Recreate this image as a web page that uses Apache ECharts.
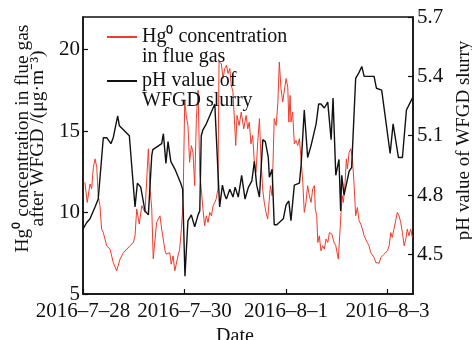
<!DOCTYPE html>
<html>
<head>
<meta charset="utf-8">
<script src="https://cdn.jsdelivr.net/npm/echarts@6/dist/echarts.min.js"></script>
<style>
  html, body { margin: 0; padding: 0; background: #fff; }
  #chart { width: 472px; height: 340px; }
</style>
</head>
<body>
<div id="chart"></div>
<script>
// hours since 2016-7-28 00:00
var hgHours = [0.9,2.0,3.3,4.1,4.9,5.7,6.5,7.2,8.0,8.8,9.6,11.2,12.8,14.3,15.9,17.5,19.1,20.7,22.2,23.8,
  24.6,25.4,26.6,27.8,29.3,30.9,31.7,32.5,33.2,34.8,36.4,37.2,38.8,39.4,41.0,41.7,42.6,43.4,44.9,45.7,
  46.5,47.3,48.1,48.8,49.6,50.4,51.2,52.0,52.8,53.6,54.4,55.2,55.9,56.7,57.5,58.3,59.1,59.9,60.7,61.5,
  62.3,63.0,63.8,64.3,65.4,66.2,67.0,67.8,68.6,69.4,70.1,70.9,72.2,72.8,73.8,74.8,76.0,77.1,77.9,78.6,
  79.4,80.2,81.0,81.8,82.6,83.4,84.2,85.0,85.7,86.5,87.3,87.9,88.6,89.4,90.4,91.3,92.1,92.8,93.6,94.4,
  95.2,96.0,96.8,97.3,97.9,98.3,99.1,99.9,100.7,101.5,102.3,103.1,103.9,104.6,105.4,106.2,107.0,107.8,108.6,109.4,
  109.8,110.5,111.0,111.7,112.5,113.3,114.1,114.9,115.7,116.5,117.6,118.7,119.5,120.7,122.0,122.6,123.1,123.9,124.5,125.0,
  125.8,126.6,127.3,128.1,128.9,129.7,130.5,131.3,132.1,132.9,133.7,134.4,135.2,136.0,136.8,137.6,138.4,139.2,140.0,140.8,
  141.5,142.3,143.1,143.9,144.7,145.5,146.2,147.0,147.8,148.6,149.4,150.2,151.0,151.8,152.6,153.3,154.1,154.9,155.7];
var hgValues = [11.85,10.62,11.75,11.47,12.78,13.29,12.78,11.03,10.42,8.98,8.77,7.96,7.75,6.93,6.42,7.14,7.54,7.75,7.96,8.16,
  8.57,10.22,9.29,10.42,10.01,13.91,11.45,10.22,7.16,9.39,9.80,8.98,7.65,7.44,7.54,6.83,7.34,6.42,7.34,7.75,
  8.98,10.62,16.88,15.96,15.34,13.08,14.11,13.70,11.65,15.78,17.50,12.47,11.45,10.22,9.19,9.80,9.39,10.01,9.80,10.42,
  10.62,10.85,11.45,19.24,19.14,18.22,18.84,19.04,18.53,18.84,17.81,17.40,14.11,15.96,15.34,16.16,15.14,15.96,15.14,15.55,
  14.22,14.73,13.08,12.47,14.32,15.76,13.08,11.34,10.62,10.01,9.60,9.62,11.65,11.03,15.76,15.34,16.68,19.24,17.60,16.78,
  16.88,18.22,17.70,15.55,17.19,15.55,16.16,14.22,14.42,14.11,14.53,13.29,11.85,10.01,10.62,11.65,11.03,10.62,11.45,11.65,
  10.22,9.80,8.16,8.57,7.65,7.96,7.75,8.37,8.16,8.77,8.68,8.16,7.96,7.14,10.01,11.03,10.62,11.85,13.29,12.68,
  13.70,13.91,13.39,11.85,9.80,10.31,9.50,9.29,8.98,8.57,8.47,8.16,7.96,7.54,7.65,7.24,6.93,7.03,6.89,7.24,
  7.34,7.44,7.54,7.65,7.96,8.77,8.47,8.98,9.50,10.01,9.80,9.39,8.77,7.96,8.37,8.98,8.57,8.98,8.47];

var phHours = [0.1,1.7,3.3,5.7,7.2,9.6,11.2,13.2,14.3,16.4,17.2,19.1,21.9,24.6,25.7,27.3,29.3,30.9,32.5,33.0,
  37.2,38.0,39.2,40.2,41.5,43.5,46.2,47.1,48.2,49.6,51.2,52.8,54.4,55.2,55.9,56.7,58.3,62.3,64.6,65.9,
  67.0,67.8,69.4,70.9,71.9,73.4,75.0,76.6,78.2,79.8,81.0,82.1,83.4,85.0,86.2,87.6,88.1,89.4,90.4,91.6,
  94.7,96.0,97.3,98.3,99.9,102.3,103.1,104.6,106.2,107.8,110.2,111.4,112.5,114.1,115.7,117.3,118.2,119.5,121.0,121.8,
  122.3,123.4,125.8,127.0,128.9,130.5,131.8,132.9,137.6,138.7,141.2,145.2,146.6,149.1,151.0,152.9,155.7];
var phValues = [4.63,4.66,4.68,4.74,4.78,5.09,5.09,5.06,5.09,5.20,5.15,5.13,5.10,4.74,4.86,4.84,4.72,4.70,5.00,5.03,
  5.06,5.11,4.96,5.07,4.97,4.93,4.86,4.83,4.39,4.67,4.70,4.64,4.70,4.72,5.10,5.13,5.16,5.26,4.74,4.85,
  4.80,4.78,4.83,4.79,4.84,4.79,4.90,4.78,4.84,4.87,4.97,4.85,4.79,5.08,5.07,4.99,4.89,4.93,4.65,4.65,
  4.68,4.75,4.77,4.67,4.85,4.86,4.95,5.23,4.99,5.05,5.16,5.26,5.26,5.24,5.27,5.08,5.29,4.90,4.98,4.72,
  4.90,4.80,4.92,4.94,5.39,5.42,5.45,5.40,5.40,5.34,5.33,5.01,5.16,4.99,4.99,5.23,5.29];

var dateTicks = [0, 48, 96, 144];
var dateLabels = ['2016\u20137\u201328', '2016\u20137\u201330', '2016\u20138\u20131', '2016\u20138\u20133'];
var hgTicks = [5, 10, 15, 20];
var phTicks = [4.5, 4.8, 5.1, 5.4, 5.7];

var FONT = 'Liberation Serif';
var INK = '#111';

function pairs(xs, ys) {
  var out = [];
  for (var i = 0; i < xs.length; i++) out.push([xs[i], ys[i]]);
  return out;
}

var chart = echarts.init(document.getElementById('chart'), null, { renderer: 'canvas' });

chart.setOption({
  animation: false,
  backgroundColor: '#fff',
  grid: {
    left: 83, right: 59, top: 17, bottom: 46,
    outerBoundsMode: 'none',
    containLabel: false,
    show: true, borderColor: INK, borderWidth: 1.5
  },
  legend: {
    orient: 'vertical',
    left: 101, top: 2,
    itemWidth: 30, itemHeight: 14, itemGap: -16,
    itemStyle: { opacity: 0 },
    // blank first line so the sample line sits beside the first text line
    formatter: function (name) { return '\n' + name; },
    textStyle: { fontFamily: FONT, fontSize: 20, lineHeight: 20, color: INK }
  },
  xAxis: {
    type: 'value',
    min: 0, max: 156,
    name: 'Date',
    nameLocation: 'middle',
    nameGap: 32,
    nameTextStyle: { fontFamily: FONT, fontSize: 20, color: INK, padding: [0, 26, 0, 0] },
    axisLine: { lineStyle: { color: INK, width: 1.5 } },
    axisTick: { inside: true, length: 5, customValues: dateTicks, lineStyle: { color: INK, width: 1.2 } },
    axisLabel: {
      customValues: dateTicks, margin: 7,
      fontFamily: FONT, fontSize: 21, color: INK,
      formatter: function (v) { var i = dateTicks.indexOf(v); return i >= 0 ? dateLabels[i] : ''; }
    },
    splitLine: { show: false }
  },
  yAxis: [{
    type: 'value',
    min: 5, max: 22,
    position: 'left',
    name: 'Hg\u2070 concentration in flue gas\nafter WFGD /(\u03bcg\u00b7m\u207b\u00b3)',
    nameLocation: 'middle',
    nameRotate: 90,
    nameGap: 36,
    nameTextStyle: { fontFamily: FONT, fontSize: 19.5, lineHeight: 15, color: INK, padding: [0, 0, 0, 34] },
    axisLine: { show: true, lineStyle: { color: INK, width: 1.5 } },
    axisTick: { show: true, inside: true, length: 5, customValues: hgTicks, lineStyle: { color: INK, width: 1.2 } },
    axisLabel: { customValues: hgTicks, margin: 3, fontFamily: FONT, fontSize: 21, color: INK },
    splitLine: { show: false }
  }, {
    type: 'value',
    min: 4.3, max: 5.7,
    position: 'right',
    name: 'pH value of WFGD slurry',
    nameLocation: 'middle',
    nameRotate: 90,
    nameGap: 38,
    nameTextStyle: { fontFamily: FONT, fontSize: 19, color: INK, padding: [0, 0, 0, 30] },
    axisLine: { show: true, lineStyle: { color: INK, width: 1.5 } },
    axisTick: { show: true, inside: true, length: 5, customValues: phTicks, lineStyle: { color: INK, width: 1.2 } },
    axisLabel: {
      customValues: phTicks, margin: 4, fontFamily: FONT, fontSize: 21, color: INK,
      formatter: function (v) { return v.toFixed(1); }
    },
    splitLine: { show: false }
  }],
  series: [{
    name: 'Hg\u2070 concentration\nin flue gas',
    type: 'line',
    yAxisIndex: 0,
    symbol: 'none',
    data: pairs(hgHours, hgValues),
    lineStyle: { color: '#f23b2a', width: 1 },
    itemStyle: { color: '#f23b2a' }
  }, {
    name: 'pH value of\nWFGD slurry',
    type: 'line',
    yAxisIndex: 1,
    symbol: 'none',
    data: pairs(phHours, phValues),
    lineStyle: { color: INK, width: 1.4 },
    itemStyle: { color: INK }
  }]
});
</script>
</body>
</html>
